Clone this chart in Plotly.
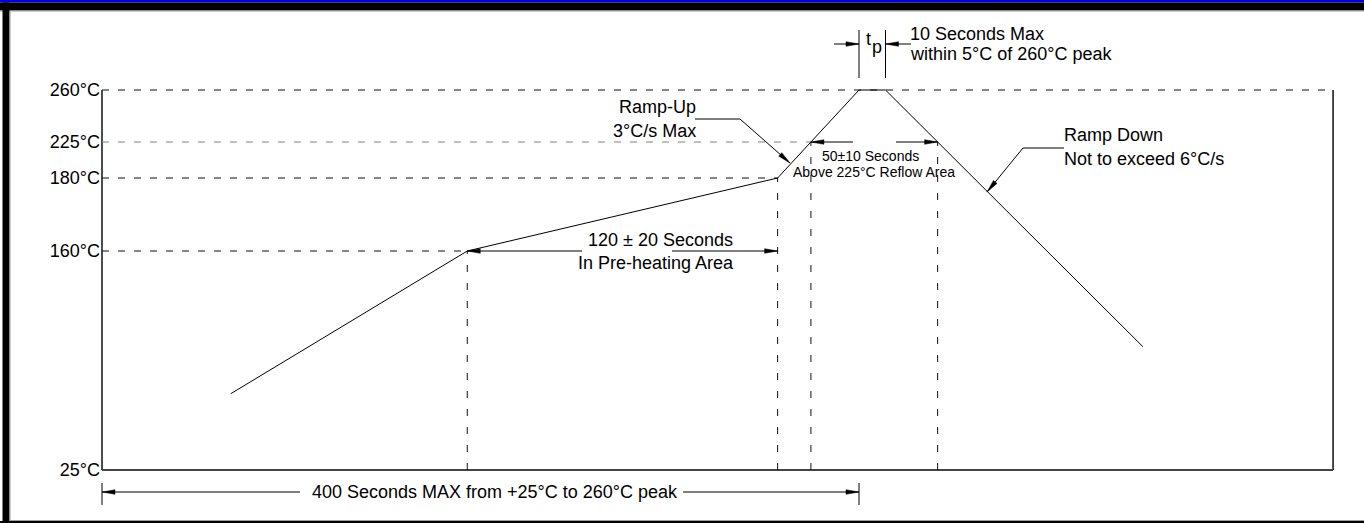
import numpy as np
import plotly.graph_objects as go

# ---------------- data ----------------
PROFILE_TIME_S = [68, 193, 357, 400, 414, 550]      # seconds
PROFILE_TEMP_C = [72, 160, 180, 260, 260, 101]      # °C
TEMP_LEVELS_C = [25, 160, 180, 225, 260]
TEMP_LABELS = ["25°C", "160°C", "180°C", "225°C", "260°C"]
PREHEAT_START_S = 193
PREHEAT_END_S = 357
PEAK_START_S = 400
PEAK_END_S = 414
TOTAL_MAX_S = 400
CHART_END_S = 650.5

TXT_TP_T = "t"
TXT_TP_P = "p"
TXT_TP_1 = "10 Seconds Max"
TXT_TP_2 = "within 5°C of 260°C peak"
TXT_UP_1 = "Ramp-Up"
TXT_UP_2 = "3°C/s Max"
TXT_REFLOW_1 = "50±10 Seconds"
TXT_REFLOW_2 = "Above 225°C Reflow Area"
TXT_PRE_1 = "120 ± 20 Seconds"
TXT_PRE_2 = "In Pre-heating Area"
TXT_DOWN_1 = "Ramp Down"
TXT_DOWN_2 = "Not to exceed 6°C/s"
TXT_TOTAL = "400 Seconds MAX from +25°C to 260°C peak"

# ---------------- schematic layout scales ----------------
W, H = 1364, 523
OX, OY = 102, 470                 # pixel position of (0 s, 25°C)
PX_PER_S = 757 / 400
LEVEL_POS = [0, 219, 292, 328, 380]   # schematic (non-linear) height of each level, px above 25°C
FONT = "Liberation Sans, Arial, sans-serif"


def Y(temp):
    return float(np.interp(temp, TEMP_LEVELS_C, LEVEL_POS))


def t_of(px):
    return (px - OX) / PX_PER_S


def d_of(py):
    return OY - py


def px_of(t, d):
    return OX + t * PX_PER_S, OY - d


# profile in axis units
prof_x = list(PROFILE_TIME_S)
prof_y = [Y(v) for v in PROFILE_TEMP_C]

# 225°C crossings on the ramps (interpolated along the drawn straight segments)
y225 = Y(225)
t225_up = float(np.interp(y225, [prof_y[2], prof_y[3]], [prof_x[2], prof_x[3]]))
t225_dn = float(np.interp(y225, [prof_y[5], prof_y[4]], [prof_x[5], prof_x[4]]))

fig = go.Figure()

# plot frame (left, bottom, right)
fig.add_trace(go.Scatter(
    x=[0, 0, None, CHART_END_S, CHART_END_S],
    y=[Y(260), Y(25), None, Y(25), Y(260)],
    mode="lines", line=dict(color="#111111", width=1.5), hoverinfo="skip"))
fig.add_trace(go.Scatter(
    x=[0, CHART_END_S], y=[Y(25), Y(25)],
    mode="lines", line=dict(color="#444444", width=2), hoverinfo="skip"))

# horizontal dashed level lines
hx, hy = [], []
for lvl, t_end in [(260, CHART_END_S), (180, PREHEAT_END_S), (160, PREHEAT_START_S)]:
    hx += [0, t_end, None]
    hy += [Y(lvl), Y(lvl), None]
fig.add_trace(go.Scatter(x=hx, y=hy, mode="lines",
                         line=dict(color="#111111", width=1, dash="7px,9px"), hoverinfo="skip"))
fig.add_trace(go.Scatter(x=[0, t225_up], y=[y225, y225], mode="lines",
                         line=dict(color="#808080", width=1.2, dash="7px,9px"), hoverinfo="skip"))

# vertical dashed lines
vx, vy = [], []
for t, lvl in [(PREHEAT_START_S, 160), (PREHEAT_END_S, 180)]:
    vx += [t, t, None]
    vy += [Y(25), Y(lvl), None]
for t in [t225_up, t225_dn]:
    vx += [t, t, None]
    vy += [Y(25), y225, None]
fig.add_trace(go.Scatter(x=vx, y=vy, mode="lines",
                         line=dict(color="#111111", width=1, dash="7px,11px"), hoverinfo="skip"))

# reflow profile
fig.add_trace(go.Scatter(x=prof_x, y=prof_y, mode="lines",
                         line=dict(color="#000000", width=1), hoverinfo="skip"))

# ---------------- dimension arrows / leaders ----------------
sx, sy, ax_, ay_ = [], [], [], []


def seg(p, q):
    sx.extend([p[0], q[0], None])
    sy.extend([p[1], q[1], None])


def arrow(tip, tail, L=13.0, w=2.3):
    tx, ty = px_of(*tip)
    bx, by = px_of(*tail)
    dx, dy = tx - bx, ty - by
    n = (dx * dx + dy * dy) ** 0.5
    ux, uy = dx / n, dy / n
    base = (tx - ux * L, ty - uy * L)
    p1 = (base[0] - uy * w, base[1] + ux * w)
    p2 = (base[0] + uy * w, base[1] - ux * w)
    seg(tail, tip)
    for px, py in [(tx, ty), p1, p2, (tx, ty)]:
        ax_.append(t_of(px))
        ay_.append(d_of(py))
    ax_.append(None)
    ay_.append(None)


# t_p marker
tp_y = d_of(44)
seg((PEAK_START_S, d_of(30)), (PEAK_START_S, d_of(78)))
seg((PEAK_END_S, d_of(30)), (PEAK_END_S, d_of(78)))
arrow((PEAK_START_S, tp_y), (t_of(834), tp_y))
arrow((PEAK_END_S, tp_y), (t_of(911), tp_y))

# ramp-up callout
up_tip = (t_of(790), d_of(163))
seg((t_of(695), d_of(119)), (t_of(740), d_of(119)))
arrow(up_tip, (t_of(740), d_of(119)))

# reflow (above 225°C) dimension
arrow((t225_up, y225), (t_of(853), y225))
arrow((t225_dn, y225), (t_of(896), y225))

# ramp-down callout
seg((t_of(1064), d_of(148)), (t_of(1023), d_of(148)))
arrow((t_of(987), d_of(192)), (t_of(1023), d_of(148)))

# pre-heating dimension
y160 = Y(160)
arrow((PREHEAT_START_S, y160), (t_of(582), y160))
arrow((PREHEAT_END_S, y160), (t_of(672), y160))

# total time dimension
y_tot = d_of(492)
arrow((0, y_tot), (t_of(300), y_tot))
arrow((TOTAL_MAX_S, y_tot), (t_of(683), y_tot))
seg((0, d_of(483)), (0, d_of(505)))
seg((TOTAL_MAX_S, d_of(483)), (TOTAL_MAX_S, d_of(505)))

fig.add_trace(go.Scatter(x=sx, y=sy, mode="lines",
                         line=dict(color="#000000", width=1), hoverinfo="skip"))
fig.add_trace(go.Scatter(x=ax_, y=ay_, mode="lines", fill="toself", fillcolor="#000000",
                         line=dict(color="#000000", width=0.5), hoverinfo="skip"))

# ---------------- texts ----------------
ann = []


def label(text, px, py, xanchor="center", size=18):
    ann.append(dict(text=text, x=t_of(px), y=d_of(py), xref="x", yref="y",
                    xanchor=xanchor, yanchor="middle", showarrow=False,
                    font=dict(family=FONT, size=size, color="#000000")))


label(TXT_TP_T, 868, 39)
label(TXT_TP_P, 877, 47)
label(TXT_TP_1, 908, 34, "left")
label(TXT_TP_2, 908, 54, "left")
label(TXT_UP_1, 698, 107, "right")
label(TXT_UP_2, 698, 131, "right")
label(TXT_REFLOW_1, 870, 156, size=14)
label(TXT_REFLOW_2, 874, 172, size=14)
label(TXT_PRE_1, 660, 240)
label(TXT_PRE_2, 656, 263)
label(TXT_DOWN_1, 1062, 135, "left")
label(TXT_DOWN_2, 1062, 159, "left")
label(TXT_TOTAL, 310, 492, "left")

# ---------------- outer frame ----------------
def rect(x0, y0, x1, y1, color):
    return dict(type="rect", xref="paper", yref="paper", layer="above",
                x0=x0 / W, x1=x1 / W, y0=1 - y1 / H, y1=1 - y0 / H,
                line=dict(width=0), fillcolor=color)


shapes = [
    rect(0, 0, W, 2.5, "#0000e8"),
    rect(0, 2.5, W, 10.5, "#000000"),
    rect(0, 10.5, W, 11.5, "#9a9a9a"),
    rect(2.5, 2.5, 9.5, H, "#000000"),
    rect(9.5, 11, 10.5, H, "#9a9a9a"),
    rect(0, 521, W, H, "#000000"),
    rect(10, 520, W, 521, "#a0a0a0"),
]

fig.update_layout(
    width=W, height=H,
    margin=dict(l=0, r=0, t=0, b=0),
    paper_bgcolor="#ffffff", plot_bgcolor="#ffffff",
    showlegend=False, hovermode=False,
    annotations=ann, shapes=shapes,
    xaxis=dict(range=[t_of(0), t_of(W)], visible=False, fixedrange=True),
    yaxis=dict(range=[d_of(H), d_of(0)], anchor="free", position=OX / W,
               tickmode="array", tickvals=[Y(v) for v in TEMP_LEVELS_C], ticktext=TEMP_LABELS,
               ticks="", showline=False, showgrid=False, zeroline=False, ticklabelstandoff=2,
               tickfont=dict(family=FONT, size=18, color="#000000"), fixedrange=True),
)

fig.write_html(
    "out.html",
    config={"displayModeBar": False, "staticPlot": True},
    post_script="document.body.style.margin='0';document.body.style.overflow='hidden';",
)
